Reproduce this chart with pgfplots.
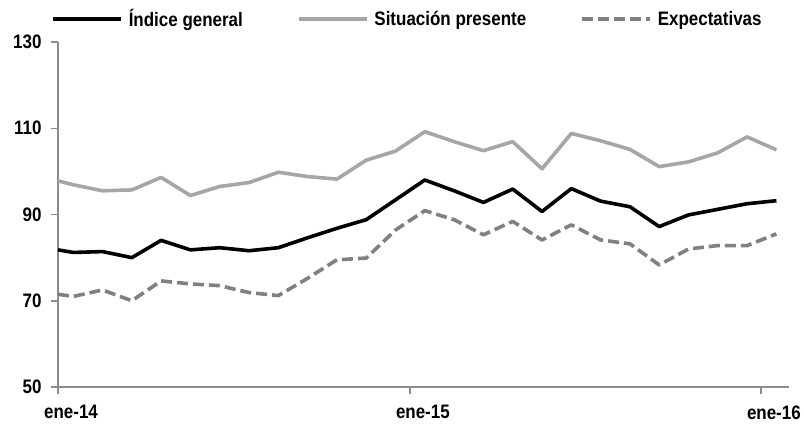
\documentclass[border=0pt]{standalone}
\usepackage{fontspec}
\setmainfont{Liberation Sans}[FakeStretch=0.87]
\usepackage{pgfplots}
\usepackage{pgfplotstable}
\pgfplotsset{compat=1.18}

\definecolor{ejegris}{HTML}{8C8C8C}
\definecolor{presente}{HTML}{A6A6A6}
\definecolor{expect}{HTML}{808080}

% mes 0 = ene-14, 12 = ene-15, 24 = ene-16
\pgfplotstableread{
mes    general presente expectativas
-0.52  81.8    97.8     71.5
0      81.2    96.9     71.0
1      81.4    95.5     72.5
2      80.0    95.7     70.0
3      84.0    98.6     74.6
4      81.8    94.4     73.9
5      82.3    96.5     73.5
6      81.6    97.4     71.9
7      82.3    99.8     71.2
8      84.6    98.8     75.2
9      86.8    98.2     79.5
10     88.8    102.6    79.9
11     93.4    104.7    86.4
12     98.0    109.2    90.9
13     95.5    106.9    88.8
14     92.8    104.8    85.3
15     95.9    106.9    88.4
16     90.7    100.6    84.1
17     96.0    108.8    87.6
18     93.1    107.1    84.1
19     91.8    105.1    83.2
20     87.2    101.1    78.3
21     89.9    102.2    82.0
22     91.2    104.3    82.8
23     92.5    108.0    82.8
24     93.2    105.0    85.5
}\datos

\newcommand{\fuente}{\fontsize{19.5}{22}\selectfont\bfseries}

\begin{document}
\begin{tikzpicture}
\path[use as bounding box] (-58pt,-37pt) rectangle (746pt,387pt);
\begin{axis}[
    at={(0,0)}, anchor=south west,
    scale only axis, width=731pt, height=345pt,
    xmin=-0.52, xmax=24.43, ymin=50, ymax=130,
    axis x line*=bottom, axis y line*=left,
    xtick={-0.52,11.49,23.47},
    xticklabels={ene-14,ene-15,ene-16},
    ytick={50,70,90,110,130},
    tick align=outside, major tick length=7pt,
    tick style={ejegris, line width=1.5pt},
    axis line style={ejegris, line width=1.5pt},
    ticklabel style={font=\fuente},
    /pgf/number format/assume math mode=true,
    xticklabel style={xshift=13pt, yshift=-8pt},
    yticklabel style={xshift=-6pt},
    legend columns=3,
    legend style={draw=none, fill=none, at={(-0.0096,1.0667)}, anchor=west,
        inner sep=0pt, font=\fuente,
        /tikz/every even column/.append style={column sep=52pt}},
    legend cell align=left,
    legend image code/.code={\draw[#1] (0pt,0pt) -- (68pt,0pt);},
    every axis plot/.append style={line width=3.6pt, line join=round},
]
\addplot[black] table[x=mes, y=general] {\datos};
\addplot[presente] table[x=mes, y=presente] {\datos};
\addplot[expect, dash pattern=on 11pt off 5pt] table[x=mes, y=expectativas] {\datos};
\legend{\hspace*{4pt}Índice general, \hspace*{4pt}Situación presente, \hspace*{4pt}Expectativas}
\end{axis}
\end{tikzpicture}
\end{document}
